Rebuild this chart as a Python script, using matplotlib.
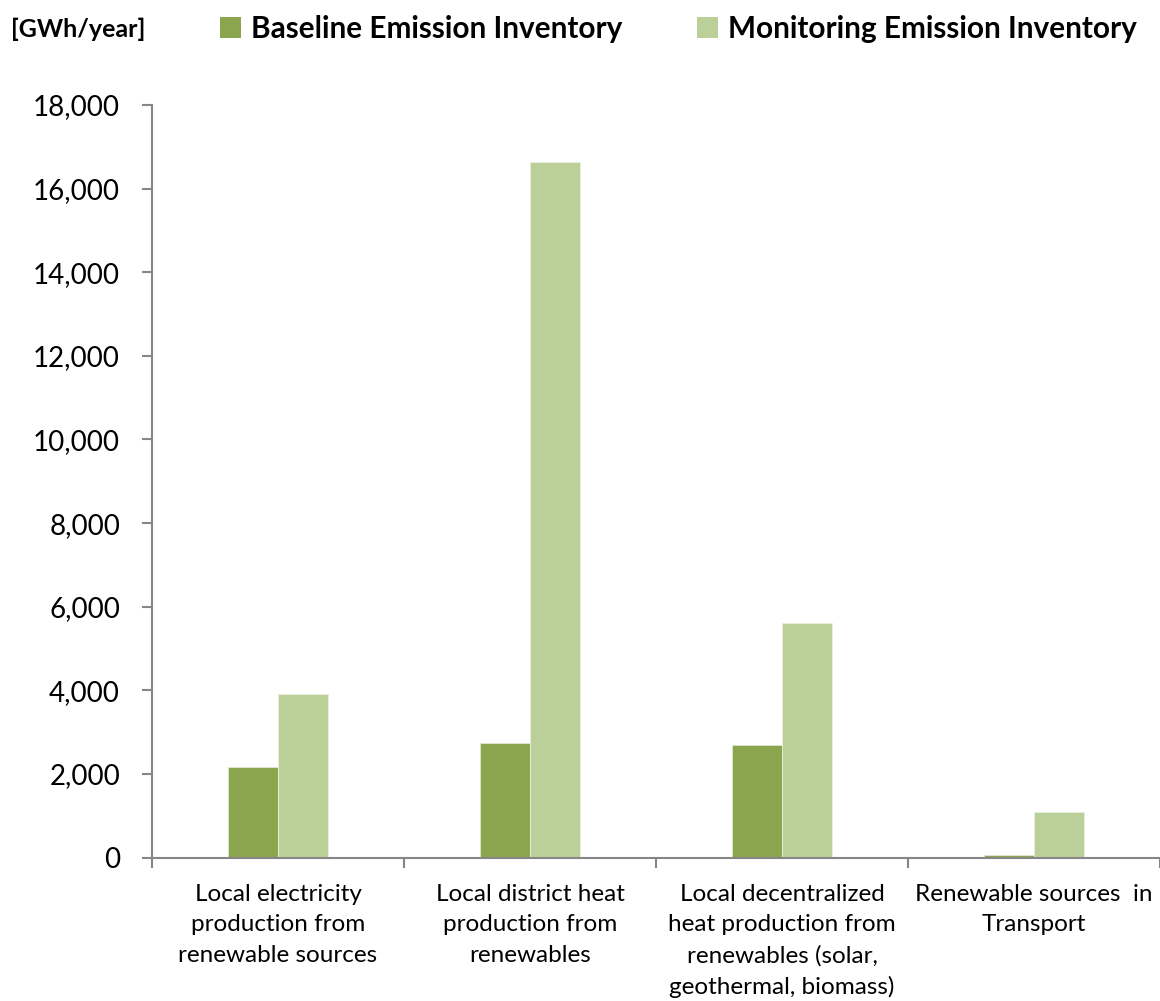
import matplotlib
matplotlib.use("Agg")
import matplotlib.pyplot as plt
import numpy as np
from matplotlib.ticker import FuncFormatter, FixedLocator
from matplotlib.patches import Patch

plt.rcParams['font.family'] = ['Lato', 'DejaVu Sans']

categories = [
    "Local electricity\nproduction from\nrenewable sources",
    "Local district heat\nproduction from\nrenewables",
    "Local decentralized\nheat production from\nrenewables (solar,\ngeothermal, biomass)",
    "Renewable sources  in\nTransport",
]
baseline = [2165, 2746, 2691, 60]
monitoring = [3904, 16638, 5603, 1088]
series_names = ["Baseline Emission Inventory", "Monitoring Emission Inventory"]
unit_label = "[GWh/year]"
yticks = [0, 2000, 4000, 6000, 8000, 10000, 12000, 14000, 16000, 18000]

c_base = "#8BA54E"
c_mon = "#BBD098"
axis_col = "#868686"

fig = plt.figure(figsize=(11.6, 10.01), dpi=100)
ax = fig.add_axes([152/1160, 1 - 857.5/1001, 1 - 152/1160, (857.5 - 105)/1001])

x = np.arange(len(categories))
w = 0.2
ax.bar(x - w/2, baseline, width=w, color=c_base, edgecolor="#dfe8cf", linewidth=0.6)
ax.bar(x + w/2, monitoring, width=w, color=c_mon, edgecolor="#e8efdc", linewidth=0.6)

ax.set_xlim(-0.5, 3.5)
ax.set_ylim(0, 18000)
ax.set_yticks(yticks)
ax.yaxis.set_major_formatter(FuncFormatter(lambda v, p: f"{int(v):,}"))

ax.set_xticks(x)
ax.set_xticklabels(categories, fontsize=17.5, linespacing=1.55, va="top")
ax.xaxis.set_minor_locator(FixedLocator([-0.5, 0.5, 1.5, 2.5, 3.5]))
ax.tick_params(axis="x", which="major", length=0, pad=19)
ax.tick_params(axis="x", which="minor", length=7, width=1.5, color=axis_col, direction="out")
ax.tick_params(axis="y", length=7, width=1.5, color=axis_col, direction="out", labelsize=20, pad=16)

for s in ["top", "right"]:
    ax.spines[s].set_visible(False)
for s in ["left", "bottom"]:
    ax.spines[s].set_color(axis_col)
    ax.spines[s].set_linewidth(1.5)

fig.text(11/1160, 1 - 29/1001, unit_label, fontsize=18, fontweight="bold", va="center", ha="left")

handles = [Patch(facecolor=c_base, edgecolor="none"), Patch(facecolor=c_mon, edgecolor="none")]
leg = fig.legend(handles, series_names, loc="center left", bbox_to_anchor=(220/1160, 1 - 29/1001),
                 ncol=2, frameon=False, handlelength=0.7, handleheight=0.7, handletextpad=0.35,
                 columnspacing=2.5, prop={"weight": "bold", "size": 21.4}, borderaxespad=0, borderpad=0)

fig.savefig("out.png", dpi=100, facecolor="white")
